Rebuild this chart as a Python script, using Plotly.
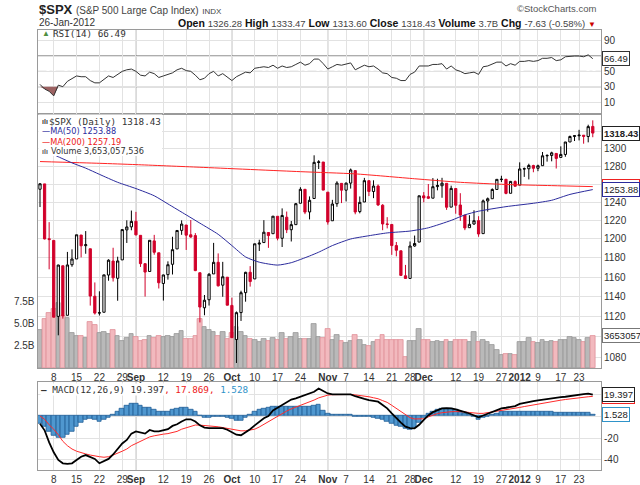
import math

import plotly.graph_objects as go

# trading days on the chart, 3-Aug-2011 .. 26-Jan-2012
trading_days = {
    "2011-08": [3, 4, 5, 8, 9, 10, 11, 12, 15, 16, 17, 18, 19, 22, 23, 24, 25, 26, 29, 30, 31],
    "2011-09": [1, 2, 6, 7, 8, 9, 12, 13, 14, 15, 16, 19, 20, 21, 22, 23, 26, 27, 28, 29, 30],
    "2011-10": [3, 4, 5, 6, 7, 10, 11, 12, 13, 14, 17, 18, 19, 20, 21, 24, 25, 26, 27, 28, 31],
    "2011-11": [1, 2, 3, 4, 7, 8, 9, 10, 11, 14, 15, 16, 17, 18, 21, 22, 23, 25, 28, 29, 30],
    "2011-12": [1, 2, 5, 6, 7, 8, 9, 12, 13, 14, 15, 16, 19, 20, 21, 22, 23, 27, 28, 29, 30],
    "2012-01": [3, 4, 5, 6, 9, 10, 11, 12, 13, 17, 18, 19, 20, 23, 24, 25, 26],
}
dates = [f"{m}-{d:02d}" for m, ds in trading_days.items() for d in ds]

opens = [
    1254.25, 1260.23, 1200.28, 1198.48, 1120.23, 1171.77, 1121.30, 1172.87, 1178.86, 1204.22, 1192.89,
    1189.62, 1140.47, 1123.55, 1124.36, 1162.16, 1176.69, 1158.85, 1177.91, 1209.76, 1213.00,
    1219.12, 1203.90, 1173.97, 1165.85, 1197.98, 1185.37, 1153.50, 1162.59, 1173.32, 1189.44, 1209.21,
    1214.99, 1204.50, 1203.63, 1164.55, 1128.82, 1136.91, 1163.32, 1175.39, 1151.74, 1159.93,
    1131.21, 1097.42, 1124.03, 1144.11, 1165.03, 1158.15, 1194.60, 1196.19, 1206.96, 1205.65, 1224.47,
    1200.75, 1223.46, 1209.92, 1215.39, 1238.72, 1254.19, 1229.17, 1243.97, 1284.39, 1284.96,
    1251.00, 1219.62, 1238.25, 1260.82, 1253.21, 1261.12, 1275.18, 1229.59, 1240.12, 1263.85, 1251.70,
    1257.81, 1236.56, 1216.19, 1215.62, 1192.98, 1187.48, 1161.41, 1158.67, 1192.56, 1196.72,
    1246.91, 1246.03, 1244.33, 1257.19, 1258.14, 1260.87, 1234.48, 1255.05, 1236.83, 1225.73, 1212.12,
    1216.09, 1219.74, 1205.72, 1241.25, 1243.72, 1254.00, 1265.02, 1265.38, 1249.75, 1262.82,
    1258.86, 1277.03, 1277.30, 1280.93, 1277.83, 1280.77, 1292.02, 1292.48, 1294.82, 1290.22, 1293.65,
    1308.07, 1314.49, 1315.29, 1315.96, 1314.40, 1326.28,
]
highs = [
    1261.20, 1260.23, 1218.11, 1198.48, 1172.88, 1171.77, 1186.29, 1189.04, 1204.49, 1204.22, 1208.47,
    1189.62, 1154.54, 1145.49, 1162.35, 1178.56, 1190.68, 1181.23, 1210.28, 1220.10, 1230.71,
    1229.29, 1203.90, 1173.97, 1198.62, 1204.40, 1185.37, 1162.52, 1176.41, 1202.38, 1209.11, 1220.06,
    1214.99, 1220.39, 1206.30, 1164.55, 1141.72, 1164.19, 1195.86, 1184.71, 1175.87, 1159.93,
    1138.99, 1125.12, 1146.07, 1165.55, 1171.40, 1194.91, 1199.24, 1220.25, 1207.46, 1224.61, 1224.47,
    1233.10, 1229.64, 1219.36, 1239.03, 1256.55, 1254.19, 1246.28, 1292.66, 1287.08, 1284.96,
    1251.00, 1242.48, 1263.21, 1260.82, 1261.70, 1277.55, 1275.18, 1246.22, 1266.98, 1263.85, 1264.25,
    1259.61, 1237.73, 1223.51, 1215.62, 1196.81, 1187.48, 1172.66, 1197.35, 1203.67, 1247.11,
    1251.09, 1260.08, 1266.73, 1266.03, 1267.06, 1260.87, 1258.25, 1255.05, 1249.86, 1225.73, 1225.60,
    1231.04, 1224.57, 1242.82, 1245.09, 1255.22, 1265.42, 1269.37, 1265.85, 1263.54, 1264.12,
    1284.62, 1278.73, 1283.05, 1281.84, 1281.99, 1296.46, 1293.80, 1296.82, 1294.82, 1303.00, 1308.11,
    1315.49, 1315.38, 1322.28, 1315.96, 1328.30, 1333.47,
]
lows = [
    1234.56, 1199.54, 1168.09, 1119.28, 1101.54, 1118.01, 1121.30, 1170.74, 1178.86, 1180.53, 1184.36,
    1131.03, 1122.05, 1121.09, 1124.36, 1156.30, 1155.47, 1135.91, 1177.91, 1195.77, 1209.35,
    1203.85, 1170.56, 1140.13, 1165.85, 1183.34, 1148.37, 1136.07, 1157.44, 1162.73, 1189.44, 1204.46,
    1188.36, 1201.29, 1166.21, 1114.22, 1121.36, 1131.07, 1163.32, 1150.40, 1139.93, 1131.34,
    1098.92, 1074.77, 1115.68, 1134.95, 1150.26, 1158.15, 1187.30, 1196.19, 1190.58, 1205.65, 1198.55,
    1191.48, 1206.31, 1197.34, 1215.39, 1238.72, 1226.79, 1221.06, 1243.97, 1277.01, 1253.16,
    1215.42, 1219.62, 1234.81, 1238.92, 1240.75, 1254.99, 1226.64, 1227.70, 1240.12, 1246.68, 1244.34,
    1235.67, 1209.43, 1211.36, 1183.16, 1181.65, 1161.79, 1158.66, 1158.67, 1191.80, 1196.72,
    1239.73, 1243.35, 1244.33, 1253.03, 1244.80, 1231.47, 1234.48, 1227.25, 1219.43, 1209.47, 1212.12,
    1215.20, 1202.37, 1205.72, 1229.51, 1243.72, 1254.00, 1262.30, 1248.64, 1249.75, 1257.46,
    1258.86, 1268.10, 1265.26, 1273.34, 1274.55, 1280.77, 1285.41, 1285.77, 1277.58, 1290.22, 1290.99,
    1308.07, 1309.17, 1309.89, 1306.06, 1307.65, 1313.60,
]
closes = [
    1260.34, 1200.07, 1199.38, 1119.46, 1172.53, 1120.76, 1172.64, 1178.81, 1204.49, 1192.76, 1193.89,
    1140.65, 1123.53, 1123.82, 1162.35, 1177.60, 1159.27, 1176.80, 1210.08, 1212.92, 1218.89,
    1204.42, 1173.97, 1165.24, 1198.62, 1185.90, 1154.23, 1162.27, 1172.87, 1188.68, 1209.11, 1216.01,
    1204.09, 1202.09, 1166.76, 1129.56, 1136.43, 1162.95, 1175.38, 1151.06, 1160.40, 1131.42,
    1099.23, 1123.95, 1144.03, 1164.97, 1155.46, 1194.89, 1195.54, 1207.25, 1203.66, 1224.58, 1200.86,
    1225.38, 1209.88, 1215.39, 1238.25, 1254.19, 1229.05, 1242.00, 1284.59, 1285.09, 1253.30,
    1218.28, 1237.90, 1261.15, 1253.23, 1261.12, 1275.92, 1229.10, 1239.70, 1263.85, 1251.78, 1257.81,
    1236.91, 1216.13, 1215.65, 1192.98, 1188.04, 1161.79, 1158.67, 1192.55, 1195.19, 1246.96,
    1244.58, 1244.28, 1257.08, 1258.47, 1261.01, 1234.35, 1255.19, 1236.47, 1225.73, 1211.82, 1215.75,
    1219.66, 1205.35, 1241.30, 1243.72, 1254.00, 1265.33, 1265.43, 1249.64, 1263.02, 1257.60,
    1277.06, 1277.30, 1281.06, 1277.81, 1280.70, 1292.08, 1292.48, 1295.50, 1289.09, 1293.67, 1308.04,
    1314.50, 1315.38, 1316.00, 1314.65, 1326.06, 1318.43,
]
close_before_first = 1254.05  # 2-Aug-2011, colours the first bar

volume_b = [
    4.3, 5.5, 6.2, 6.6, 7.3, 5.8, 5.6, 3.9, 3.6, 3.6, 3.4, 5.2, 4.8, 3.9, 4.0, 3.8, 4.3, 3.6, 3.0, 3.4, 3.8,
    3.5, 3.0, 3.2, 3.6, 3.4, 3.6, 3.5, 3.6, 3.5, 3.8, 4.2, 3.3, 3.3, 3.6, 5.5, 4.6, 4.3, 4.0, 3.6, 4.1, 3.3,
    3.9, 4.6, 4.0, 3.6, 3.3, 3.1, 2.9, 3.3, 3.0, 3.4, 3.2, 3.9, 3.3, 3.5, 3.9, 3.3, 3.3, 3.3, 4.9, 3.5, 3.4,
    4.4, 3.2, 3.7, 3.0, 2.8, 3.0, 3.7, 3.1, 2.6, 2.5, 2.9, 3.2, 3.7, 3.2, 3.1, 3.1, 3.1, 1.2, 3.0, 3.0, 4.4,
    3.1, 3.1, 2.9, 3.0, 2.9, 3.2, 2.9, 3.1, 3.1, 3.1, 2.9, 4.1, 2.9, 3.1, 2.9, 2.6, 2.0, 1.5, 1.6, 1.6, 1.5,
    2.9, 2.9, 3.4, 2.9, 2.8, 3.1, 2.9, 3.0, 2.9, 3.1, 3.2, 3.5, 3.4, 3.1, 2.9, 3.4, 3.653,
]

ma50_dates = ["2011-08-03", "2011-08-05", "2011-08-09", "2011-08-12", "2011-08-17", "2011-08-22",
              "2011-08-26", "2011-09-01", "2011-09-08", "2011-09-13", "2011-09-19", "2011-09-22",
              "2011-09-28", "2011-10-03", "2011-10-06", "2011-10-11", "2011-10-17", "2011-10-20",
              "2011-10-26", "2011-10-28", "2011-11-02", "2011-11-08", "2011-11-14", "2011-11-18",
              "2011-11-28", "2011-12-02", "2011-12-09", "2011-12-14", "2011-12-19", "2011-12-28",
              "2012-01-06", "2012-01-12", "2012-01-19", "2012-01-26"]
ma50 = [1301, 1296, 1291, 1284, 1278, 1271, 1262, 1255, 1247, 1238, 1226, 1217, 1205, 1193, 1181,
        1175.5, 1172.5, 1175, 1182, 1186, 1193, 1200, 1203.5, 1206.5, 1208.5, 1212, 1220, 1226,
        1230, 1235, 1238.7, 1242, 1248.5, 1253.88]

ma200_dates = ["2011-08-03", "2011-08-22", "2011-09-01", "2011-09-22", "2011-10-24", "2011-11-09",
               "2011-11-29", "2011-12-13", "2011-12-28", "2012-01-12", "2012-01-26"]
ma200 = [1285.5, 1283.5, 1282, 1279, 1274, 1271.5, 1266, 1262, 1259.6, 1258.3, 1257.19]

rsi = [
    33, 27, 24, 18, 32, 30, 37, 41, 44, 43, 43, 38, 35, 35, 40, 44, 42, 46, 50, 52, 53,
    50, 45, 44, 49, 47, 42, 44, 46, 48, 52, 54, 51, 50, 45, 39, 41, 47, 50, 44, 47, 42,
    38, 43, 46, 49, 48, 54, 55, 56, 55, 58, 54, 57, 55, 56, 59, 62, 58, 60, 66, 66, 60,
    53, 56, 59, 58, 59, 61, 52, 55, 58, 56, 57, 53, 48, 47, 42, 41, 38, 38, 46, 49, 57,
    57, 57, 59, 59, 60, 53, 57, 52, 50, 47, 48, 49, 46, 56, 57, 59, 62, 62, 57, 60, 58,
    63, 63, 64, 63, 64, 67, 67, 68, 64, 65, 69, 70, 70, 70, 69, 71.5, 66.49,
]

macd = [
    -7, -13, -24, -33, -40, -43, -43.5, -43, -40, -37, -35.5, -37, -39, -43, -41, -39, -35, -30, -25, -21.8, -16,
    -14, -15, -16, -12.7, -14, -14, -13, -12, -9, -7.5, -5, -3, -3, -5, -8.5, -10.5, -11, -11.2, -11, -11, -12.5,
    -14.5, -17, -17.5, -15, -12, -8.5, -5, -2, 0, 5, 7.5, 10, 13, 15, 16, 17.5, 19, 20, 22, 25, 23,
    20.5, 19.7, 19.7, 19.7, 19.7, 19.7, 18, 16.5, 15.5, 14.5, 13.8, 13, 10, 7, 2.5, -2, -6, -9.7, -11, -11.2, -8,
    -3.5, 0.5, 3.5, 5.5, 7, 7.2, 7, 6, 5, 3.5, 2.3, 0.5, -1.2, 0.5, 2, 3.9, 5.5, 7, 7.5, 8, 9,
    11, 12, 12.8, 13.5, 14.2, 14.8, 15.5, 16.5, 16.9, 17.2, 17.5, 18.3, 19, 19.7, 20, 20.4, 19.397,
]
signal = [
    0, -3, -8, -12, -17, -23, -27, -30, -32, -33.5, -34.5, -35.5, -36.5, -37, -37.5, -37, -35.5, -34, -32, -30, -27,
    -25, -23, -21, -19, -18, -17, -16.5, -16, -15, -14, -12, -10.5, -9, -8.2, -8.3, -8.6, -9, -9.4, -9.8, -10.5, -11.2,
    -12, -13, -13.5, -13.4, -13, -12, -10, -7.5, -5.5, -2.5, 0, 2, 4.5, 6.5, 8, 9.5, 11, 13, 14.5, 16.5, 18,
    19, 19.4, 19.6, 19.7, 19.7, 19.6, 19.2, 18.8, 18.4, 17.5, 16.6, 15.7, 14, 12.4, 9.7, 7, 4, 1, -1.5, -2.7, -2.9,
    -2.5, -0.8, 0.8, 2.2, 3, 3.6, 3.9, 4, 4, 3.8, 3.2, 2.6, 2.4, 2.4, 3, 3.8, 4.5, 5.2, 5.8, 6.3, 7,
    7.8, 8.6, 9.4, 10, 10.7, 11.5, 12.2, 13, 13.7, 14.4, 15, 15.6, 16.3, 16.8, 17.2, 17.5, 17.869,
]
histogram = [
    -7, -10, -14, -18, -20, -19.5, -17, -14, -10, -6.5, -3.5, -2.5, -3, -5, -3.5, -1.5, 1, 4, 7, 9, 11,
    11.5, 9, 7.5, 7.5, 6, 4, 3.5, 3.5, 5.5, 7, 7.5, 7.5, 6, 3.5, 0.5, -1.5, -1.5, -1, -0.8, -0.7, -1.5,
    -2.5, -4, -4, -1.5, 1, 3.5, 5.5, 6.5, 7.5, 8.5, 8.5, 8.5, 8.5, 8.5, 8.5, 8.5, 8.5, 8.5, 9.5, 10, 5,
    2, 1.5, 1.5, 1.2, 1, 0.8, -0.5, -1, -1, -1, -1.5, -2, -3, -5, -7, -9, -10, -11.5, -12, -11, -6,
    -1.5, 2, 4, 5.5, 6.5, 7, 6.5, 5.5, 4, 2.5, 1, -1, -3, -1.5, -0.5, 1, 2.5, 3.5, 3.5, 3.8, 3.8,
    4, 4, 4, 4, 3.8, 3.8, 3.6, 3.6, 3.4, 3.2, 3, 3, 2.8, 2.8, 2.7, 2.6, 1.528,
]

tick_dates = ["2011-08-08", "2011-08-15", "2011-08-22", "2011-08-29", "2011-09-01", "2011-09-12",
              "2011-09-19", "2011-09-26", "2011-10-03", "2011-10-10", "2011-10-17", "2011-10-24",
              "2011-11-01", "2011-11-07", "2011-11-14", "2011-11-21", "2011-11-28", "2011-12-01",
              "2011-12-12", "2011-12-19", "2011-12-27", "2012-01-03", "2012-01-09", "2012-01-17",
              "2012-01-23"]
tick_text = ["8", "15", "22", "29", "<b>Sep</b>", "12", "19", "26", "<b>Oct</b>", "10", "17", "24",
             "<b>Nov</b>", "7", "14", "21", "28", "<b>Dec</b>", "12", "19", "27", "<b>2012</b>", "9",
             "17", "23"]
month_dates = ["2011-09-01", "2011-10-03", "2011-11-01", "2011-12-01", "2012-01-03"]

price_ticks = [1080, 1100, 1120, 1140, 1160, 1180, 1200, 1220, 1240, 1260, 1280, 1300, 1320]
price_tick_text = ["1080", "", "1120", "1140", "1160", "1180", "1200", "1220", "1240", "", "1280", "1300", ""]

SANS = "Liberation Sans, Arial, sans-serif"
VERD = "DejaVu Sans, Verdana, sans-serif"
MONO = "DejaVu Sans Mono, monospace"
RED = "#d1002a"
GRID = "#e2e2e2"
FRAME = "#9a9a9a"

pos = {d: i for i, d in enumerate(dates)}
x = list(range(len(dates)))
prev = [close_before_first] + closes[:-1]

fig = go.Figure()

# volume behind the candles (base axis of the price panel)
down_day = [c < p for c, p in zip(closes, prev)]
fig.add_trace(go.Bar(
    x=x, y=volume_b, xaxis="x", yaxis="y",
    marker=dict(color=["#f2b9be" if d else "#b9b9b9" for d in down_day],
                line=dict(color=["#df8f98" if d else "#979797" for d in down_day], width=0.8)),
))

# candles: colour from previous close, fill from open/close
styles = {
    (False, False): ("black", "white"),
    (False, True): ("black", "black"),
    (True, False): (RED, "white"),
    (True, True): (RED, RED),
}
for key, (lc, fc) in styles.items():
    idx = [i for i in x if (down_day[i], closes[i] < opens[i]) == key]
    if not idx:
        continue
    side = dict(line=dict(color=lc, width=1), fillcolor=fc)
    fig.add_trace(go.Candlestick(
        x=idx, open=[opens[i] for i in idx], high=[highs[i] for i in idx],
        low=[lows[i] for i in idx], close=[closes[i] for i in idx],
        increasing=side, decreasing=side, whiskerwidth=0, xaxis="x", yaxis="y2",
    ))

fig.add_trace(go.Scatter(x=[pos[d] for d in ma200_dates], y=ma200, mode="lines", xaxis="x", yaxis="y2",
                         line=dict(color="#ff2424", width=1, shape="spline", smoothing=0.6)))
fig.add_trace(go.Scatter(x=[pos[d] for d in ma50_dates], y=ma50, mode="lines", xaxis="x", yaxis="y2",
                         line=dict(color="#2b2b9c", width=1, shape="spline", smoothing=0.6)))

# RSI with the oversold area shaded
shade = [i for i in x[:6]]
fig.add_trace(go.Scatter(x=shade, y=[30] * len(shade), mode="lines", line=dict(width=0),
                         xaxis="x3", yaxis="y4"))
fig.add_trace(go.Scatter(x=shade, y=[min(rsi[i], 30) for i in shade], mode="lines", line=dict(width=0),
                         fill="tonexty", fillcolor="#9c6262", xaxis="x3", yaxis="y4"))
fig.add_trace(go.Scatter(x=x, y=rsi, mode="lines", line=dict(color="#333333", width=1),
                         xaxis="x3", yaxis="y4"))

# MACD
fig.add_trace(go.Bar(x=x, y=histogram, xaxis="x2", yaxis="y3",
                     marker=dict(color="#4f97cf", line=dict(color="#1f5d96", width=0.8))))
fig.add_trace(go.Scatter(x=x, y=signal, mode="lines", line=dict(color="#ff2b2b", width=1),
                         xaxis="x2", yaxis="y3"))
fig.add_trace(go.Scatter(x=x, y=macd, mode="lines", line=dict(color="black", width=1.8),
                         xaxis="x2", yaxis="y3"))

X_DOM = [37.5 / 640, 601 / 640]
RSI_DOM = [1 - 114 / 485, 1 - 30 / 485]
PRICE_DOM = [1 - 368 / 485, 1 - 114 / 485]
MACD_DOM = [1 - 470 / 485, 1 - 381.7 / 485]

xcommon = dict(domain=X_DOM, range=[-0.55, 122.8], tickmode="array",
               tickvals=[pos[d] for d in tick_dates], ticktext=tick_text, tickangle=0,
               showgrid=True, gridcolor=GRID, showline=True, linecolor=FRAME, mirror=True,
               ticks="", zeroline=False, tickfont=dict(family=SANS, size=10, color="#333"))
ycommon = dict(showline=True, linecolor=FRAME, mirror=True, ticks="", zeroline=False,
               gridcolor=GRID, tickfont=dict(family=SANS, size=10, color="#333"))

fig.update_layout(
    width=640, height=485, margin=dict(l=0, r=0, t=0, b=0),
    paper_bgcolor="white", plot_bgcolor="white", showlegend=False, bargap=0,
    font=dict(family=SANS, size=10, color="#333"),
    xaxis=dict(**xcommon, anchor="y", rangeslider=dict(visible=False)),
    xaxis2=dict(**xcommon, anchor="y3", matches="x"),
    xaxis3=dict(**xcommon, anchor="y4", matches="x", showticklabels=False),
    yaxis=dict(**ycommon, domain=PRICE_DOM, anchor="x", side="left", range=[0, 28.6],
               tickvals=[2.5, 5, 7.5], ticktext=["2.5B", "5.0B", "7.5B"], showgrid=False),
    yaxis2=dict(**ycommon, overlaying="y", anchor="x", side="right", type="log",
                range=[math.log10(1070), math.log10(1341)], tickvals=price_ticks,
                ticktext=price_tick_text, showgrid=True),
    yaxis3=dict(**ycommon, domain=MACD_DOM, anchor="x2", side="right", range=[-49.1, 31.2],
                tickvals=[-40, -20, 0, 20], ticktext=["-40", "-20", "", ""], showgrid=True),
    yaxis4=dict(**ycommon, domain=RSI_DOM, anchor="x3", side="right", range=[-5.6, 103.9],
                tickvals=[10, 30, 50, 70, 90], ticktext=["10", "30", "50", "", "90"], showgrid=True),
)

# darker month separators in every panel
shapes = []
for d in month_dates:
    for xr, yr in [("x", "y domain"), ("x2", "y3 domain"), ("x3", "y4 domain")]:
        shapes.append(dict(type="line", xref=xr, yref=yr, x0=pos[d], x1=pos[d], y0=0, y1=1,
                           line=dict(color="#ababab", width=1), layer="below"))
for lvl in [30, 70]:
    shapes.append(dict(type="line", xref="x3 domain", yref="y4", x0=0, x1=1, y0=lvl, y1=lvl,
                       line=dict(color="#5a5a5a", width=1), layer="below"))
shapes.append(dict(type="line", xref="x3 domain", yref="y4", x0=0, x1=1, y0=50, y1=50,
                   line=dict(color="#a8a8a8", width=1, dash="dashdot"), layer="below"))
# white block behind the price legend
shapes.append(dict(type="rect", xref="paper", yref="paper", x0=38.5 / 640, x1=162 / 640,
                   y0=1 - 156 / 485, y1=1 - 114.5 / 485, fillcolor="white", line=dict(width=0),
                   layer="above"))
fig.update_layout(shapes=shapes)


def px(v):
    return v / 640


def py(v):
    return 1 - v / 485


def note(text, xp, yp, size=10, family=SANS, color="#333", anchor="left", **kw):
    return dict(text=text, x=px(xp), y=py(yp), xref="paper", yref="paper", xanchor=anchor,
                yanchor="middle", showarrow=False, font=dict(family=family, size=size, color=color), **kw)


def tag(text, y, yref, border, bold=False):
    return dict(text=f"<b>{text}</b>" if bold else text, x=px(601.5), xref="paper", xanchor="left",
                y=y, yref=yref, yanchor="middle", showarrow=False, bgcolor="white",
                bordercolor=border, borderwidth=1, borderpad=1,
                font=dict(family=SANS, size=9.5, color="#222"))


last = closes[-1]
annotations = [
    note("<b>$SPX</b> <span style='font-size:10px;color:#444'>(S&amp;P 500 Large Cap Index)</span> "
         "<span style='font-size:8px;color:#444'>INDX</span>", 37, 9, size=13, color="#222"),
    note("26-Jan-2012", 37, 22.5, size=10, color="#333"),
    note("<b>Open</b> <span style='font-size:9.5px;color:#444'>1326.28</span> <b>High</b> "
         "<span style='font-size:9.5px;color:#444'>1333.47</span> <b>Low</b> "
         "<span style='font-size:9.5px;color:#444'>1313.60</span> <b>Close</b> "
         "<span style='font-size:9.5px;color:#444'>1318.43</span> <b>Volume</b> "
         "<span style='font-size:9.5px;color:#444'>3.7B</span> <b>Chg</b> "
         "<span style='font-size:9.5px;color:#444'>-7.63 (-0.58%)</span> "
         "<span style='color:#cc0000;font-size:8px'>▼</span>", 598, 22.5, size=10.5, color="#111",
         anchor="right"),
    note("©StockCharts.com", 598, 8.5, size=9.5, color="#555", anchor="right"),
    # RSI legend
    note("<span style='color:#4f8f3f'>▲</span>", 39.5, 34, size=8),
    note("RSI(14) 66.49", 50.5, 34, size=9.3, family=MONO, color="#333"),
    # price legend
    note("<b>ılı</b>", 39.5, 121.5, size=7, color="#333"),
    note("$SPX (Daily) 1318.43", 46.5, 121.5, size=9.3, family=MONO, color="#333"),
    note("—MA(50) 1253.88", 39.5, 131.5, size=8.2, family=VERD, color="#2b2b9c"),
    note("—MA(200) 1257.19", 39.5, 141.5, size=8.2, family=VERD, color="#ee2020"),
    note("<b>ılı</b>", 39.5, 151, size=7, color="#555"),
    note("Volume 3,653,057,536", 48.5, 151, size=8.2, family=VERD, color="#333"),
    # MACD legend
    note("<b>—</b> MACD(12,26,9) 19.397<span style='color:#ee2020'>, 17.869,</span> "
         "<span style='color:#2f93c9'>1.528</span>", 39.5, 389, size=9.3, family=MONO, color="#333",
         bgcolor="white", borderpad=0),
    # right-hand value tags
    tag("66.49", rsi[-1], "y4", "#333"),
    tag(f"{last:.2f}", math.log10(last), "y2", "#222", bold=True),
    tag("1257.19", math.log10(ma200[-1]), "y2", "#ee2020"),
    tag("1253.88", math.log10(ma50[-1]), "y2", "#2b2b9c"),
    tag("3653057", volume_b[-1], "y", "#777"),
    tag("17.869", signal[-1], "y3", "#ee2020"),
    tag("19.397", macd[-1], "y3", "#222"),
    tag("1.528", histogram[-1], "y3", "#2f93c9"),
]
fig.update_layout(annotations=annotations)

# the page is photographed at exactly the figure size, so drop the default body margin
fig.write_html("out.html", config={"displayModeBar": False},
               post_script="document.body.style.margin = '0';")
